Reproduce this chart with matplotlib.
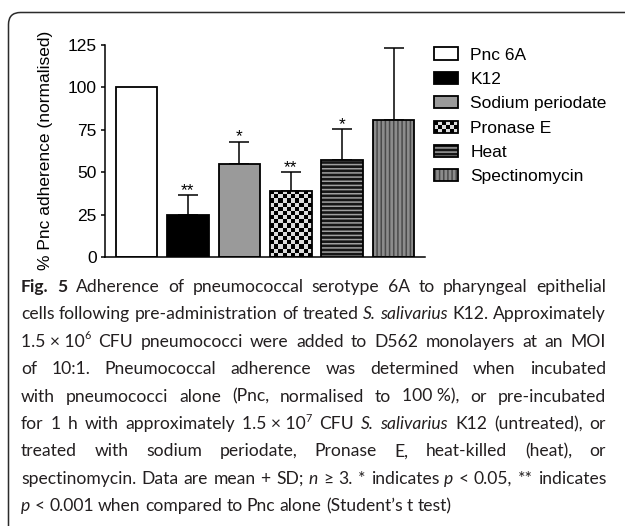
import numpy as np
import matplotlib
matplotlib.use("Agg")
import matplotlib.pyplot as plt
from matplotlib.patches import Rectangle, FancyBboxPatch, Patch
from matplotlib.legend_handler import HandlerBase
from matplotlib.colors import ListedColormap
from matplotlib.transforms import IdentityTransform

# data
groups = ["Pnc 6A", "K12", "Sodium periodate", "Pronase E", "Heat", "Spectinomycin"]
means = [100, 25, 54.5, 39, 57, 80.5]
sds = [0, 11.5, 13.5, 11, 18.5, 42.5]
stars = ["", "**", "*", "**", "*", ""]
yticks = [0, 25, 50, 75, 100, 125]

# fill, hatch, hatch colour, checkerboard
styles = [
    ("white", None, None, False),
    ("black", None, None, False),
    ("#9a9a9a", None, None, False),
    ("#dcdcdc", None, None, True),
    ("#151515", "----", "#a0a0a0", False),
    ("#8c8c8c", "||||", "#4a4a4a", False),
]

caption_lines = [
    "{b}Fig. {b}5 Adherence of pneumococcal serotype 6A to pharyngeal epithelial",
    "cells following pre-administration of treated {i}S. {i}salivarius K12. Approximately",
    "1.5~×~10{^}6 CFU pneumococci were added to D562 monolayers at an MOI",
    "of 10:1. Pneumococcal adherence was determined when incubated",
    "with pneumococci alone (Pnc, normalised to 100~%), or pre-incubated",
    "for 1 h with approximately 1.5~×~10{^}7 CFU {i}S. {i}salivarius K12 (untreated), or",
    "treated with sodium periodate, Pronase E, heat-killed (heat), or",
    "spectinomycin. Data are mean + SD; {i}n ≥ 3. * indicates {i}p < 0.05, ** indicates",
    "{i}p < 0.001 when compared to Pnc alone (Student’s t test)",
]

plt.rcParams['font.family'] = ['Liberation Sans', 'DejaVu Sans']
plt.rcParams['hatch.linewidth'] = 1.1

W, H = 625, 526
fig = plt.figure(figsize=(W / 100, H / 100), dpi=100)

# rounded frame round the whole figure
frame = FancyBboxPatch((8.5, -60), 700, H - 12.5 + 60, boxstyle="round,pad=0,rounding_size=12",
                       facecolor='none', edgecolor='#2b2b2b', linewidth=1.1,
                       transform=IdentityTransform())
fig.patches.append(frame)

ax = fig.add_axes([105 / W, 1 - 257 / H, 319.5 / W, 212.3 / H])
x = np.arange(len(groups))
width = 0.81
ax.set_xlim(-0.613, 5.60)
ax.set_ylim(0, 125)

bars = ax.bar(x, means, width, color=[s[0] for s in styles], edgecolor='none', zorder=2)
for b, (fc, hatch, hc, checker) in zip(bars, styles):
    if hatch:
        ax.bar(b.get_x() + b.get_width() / 2, b.get_height(), b.get_width(),
               facecolor='none', edgecolor=hc, hatch=hatch, linewidth=0, zorder=3)
    if checker:
        x0, y0 = ax.transData.transform((b.get_x(), 0))
        x1, y1 = ax.transData.transform((b.get_x() + b.get_width(), b.get_height()))
        ncol = 10
        nrow = int(round((y1 - y0) / ((x1 - x0) / ncol)))
        board = np.indices((nrow, ncol)).sum(axis=0) % 2
        im = ax.imshow(board, cmap=ListedColormap(['black', '#dcdcdc']),
                       extent=(b.get_x(), b.get_x() + b.get_width(), 0, b.get_height()),
                       aspect='auto', interpolation='nearest', zorder=2.5)
        im.set_clip_path(b)
ax.bar(x, means, width, facecolor='none', edgecolor='black', linewidth=1.3, zorder=4)

idx = [i for i in x if sds[i] > 0]
ax.errorbar(x[idx], np.array(means)[idx], yerr=[np.zeros(len(idx)), np.array(sds)[idx]],
            fmt='none', ecolor='black', elinewidth=1.1, capsize=7.2, capthick=1.1, zorder=1)
for i in x:
    if stars[i]:
        ax.annotate(stars[i], (x[i], means[i] + sds[i]), xytext=(0, 0), textcoords='offset points',
                    ha='center', va='baseline', fontsize=12.5)

ax.set_xlim(-0.613, 5.60)
ax.set_ylim(0, 125)
ax.set_yticks(yticks)
ax.set_xticks([])
for s in ['top', 'right']:
    ax.spines[s].set_visible(False)
for s in ['left', 'bottom']:
    ax.spines[s].set_linewidth(1.1)
ax.tick_params(axis='y', length=3.2, width=1.1, pad=2.7, labelsize=12.5)
ax.set_ylabel('% Pnc adherence (normalised)', fontsize=12.5)
ax.yaxis.set_label_coords(-0.163, 0.5)


class SwatchHandler(HandlerBase):
    def __init__(self, style):
        super().__init__()
        self.style = style

    def create_artists(self, legend, orig_handle, xdescent, ydescent, width, height, fontsize, trans):
        fc, hatch, hc, checker = self.style
        x0, y0 = -xdescent, -ydescent
        arts = [Rectangle((x0, y0), width, height, facecolor=fc, edgecolor='none', transform=trans)]
        if hatch:
            arts.append(Rectangle((x0, y0), width, height, facecolor='none', edgecolor=hc,
                                  hatch=hatch, linewidth=0, transform=trans))
        if checker:
            ncol, nrow = 6, 3
            cw, ch = width / ncol, height / nrow
            for r in range(nrow):
                for c in range(ncol):
                    if (r + c) % 2 == 0:
                        arts.append(Rectangle((x0 + c * cw, y0 + r * ch), cw, ch,
                                              facecolor='black', edgecolor='none', transform=trans))
        arts.append(Rectangle((x0, y0), width, height, facecolor='none', edgecolor='black',
                              linewidth=1.3, transform=trans))
        return arts


handles = [Patch(label=g) for g in groups]
fig.legend(handles, groups, handler_map={h: SwatchHandler(s) for h, s in zip(handles, styles)},
           loc='upper left', bbox_to_anchor=(434 / W, 1 - 47.5 / H), frameon=False, fontsize=12.5,
           handlelength=1.4, handleheight=0.7, handletextpad=0.7, labelspacing=0.53,
           borderpad=0, borderaxespad=0)

# caption, justified line by line
CAP_FS = 12.6
CAP_LEFT, CAP_RIGHT = 21, 606
CAP_TOP, CAP_STEP = 292, 27.4
px = 100 / 72
renderer = fig.canvas.get_renderer()


def parse_word(w):
    style = 'n'
    if w.startswith('{b}'):
        style, w = 'b', w[3:]
    elif w.startswith('{i}'):
        style, w = 'i', w[3:]
    parts = w.split('{^}')
    pieces = [(parts[0].replace('~', ' '), style)]
    if len(parts) > 1:
        pieces.append((parts[1], '^'))
    return pieces


def make_piece(txt, style):
    kw = dict(fontsize=CAP_FS, family=['Lato', 'DejaVu Sans'], color='#231f20', va='baseline', ha='left')
    if style == 'b':
        kw['fontweight'] = 'bold'
    if style == 'i':
        kw['fontstyle'] = 'italic'
    return fig.text(0, 0, txt, **kw)


for k, line in enumerate(caption_lines):
    words = []
    for w in line.split(' '):
        words.append([(make_piece(t, s), s) for t, s in parse_word(w)])
    for word in words:
        for p, s in word:
            if s == '^':
                p.set_fontsize(CAP_FS * 0.62)
    widths = [[p.get_window_extent(renderer).width for p, s in word] for word in words]
    total = sum(sum(ws) for ws in widths)
    ngaps = len(words) - 1
    mingap = 0.2 * CAP_FS * px
    avail = CAP_RIGHT - CAP_LEFT
    scale = 1.0
    if total + ngaps * mingap > avail:
        # squeeze an over-long line a little
        scale = (avail - ngaps * mingap) / total
        for word in words:
            for p, s in word:
                p.set_fontsize(p.get_fontsize() * scale)
        widths = [[w * scale for w in ws] for ws in widths]
        total *= scale
    if k < len(caption_lines) - 1:
        gap = (avail - total) / ngaps
    else:
        gap = CAP_FS * px * 0.25
    xpos = CAP_LEFT
    ybase = CAP_TOP + k * CAP_STEP
    for word, ws in zip(words, widths):
        for (p, s), w in zip(word, ws):
            dy = 0.42 * CAP_FS * scale * px if s == '^' else 0
            p.set_position((xpos / W, 1 - (ybase - dy) / H))
            xpos += w
        xpos += gap

fig.savefig('out.png', dpi=100)
